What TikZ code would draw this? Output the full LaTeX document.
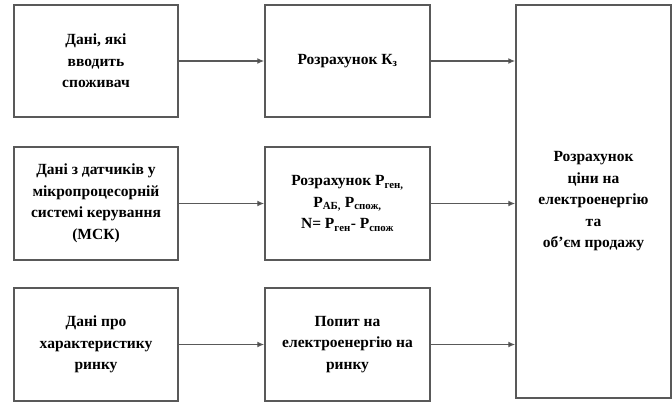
\documentclass[tikz,border=0pt]{standalone}
\usepackage{fontspec}
\setmainfont{Liberation Serif}
\usepackage{tikz}
\usetikzlibrary{arrows.meta, positioning}

\begin{document}
\begin{tikzpicture}[x=1pt, y=-1pt,
  blk/.style={draw=black!65, line width=1.5pt, align=center, inner sep=2pt,
    font=\fontsize{15.5}{21.5}\selectfont\bfseries},
  arr/.style={draw=black!65, line width=1.5pt,
    -{Latex[length=7pt, width=6pt, fill=black]}}]
  \useasboundingbox (0,0) rectangle (672,403);
  % left column: input data
  \node[blk, minimum width=164pt, minimum height=112pt] (din) at (96,61)
    {Дані, які\\ вводить\\ споживач};
  \node[blk, minimum width=164pt, minimum height=113pt] (dsens) at (96,203.5)
    {Дані з датчиків у\\ мікропроцесорній\\ системі керування\\ (МСК)};
  \node[blk, minimum width=164pt, minimum height=113pt] (dmkt) at (96,344.5)
    {Дані про\\ характеристику\\ ринку};
  % middle column: calculations
  \node[blk, minimum width=165pt, minimum height=112pt] (kz) at (347.5,61)
    {Розрахунок К\textsubscript{з}};
  \node[blk, minimum width=165pt, minimum height=113pt] (pw) at (347.5,203.5)
    {Розрахунок P\textsubscript{ген,}\\ P\textsubscript{АБ,} P\textsubscript{спож,}\\
     N= P\textsubscript{ген}- P\textsubscript{спож}};
  \node[blk, minimum width=165pt, minimum height=113pt] (dem) at (347.5,344.5)
    {Попит на\\ електроенергію на\\ ринку};
  % right: result
  \node[blk, minimum width=155pt, minimum height=393pt] (price) at (593.5,201.5)
    {Розрахунок\\ ціни на\\ електроенергію\\ та\\ об’єм продажу};
  \draw[arr] (din) -- (kz);
  \draw[arr] (dsens) -- (pw);
  \draw[arr] (dmkt) -- (dem);
  \draw[arr] (kz.east) -- (kz.east -| price.west);
  \draw[arr] (pw.east) -- (pw.east -| price.west);
  \draw[arr] (dem.east) -- (dem.east -| price.west);
\end{tikzpicture}
\end{document}
